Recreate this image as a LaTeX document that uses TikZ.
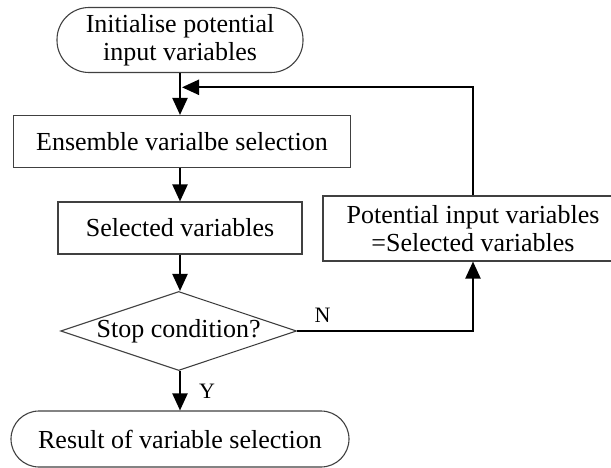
\documentclass[tikz,border=0pt]{standalone}
\usepackage{fontspec}
\setmainfont{Liberation Serif}
\usetikzlibrary{arrows.meta,shapes.geometric}
\begin{document}
\begin{tikzpicture}[x=1pt,y=-1pt,
  txt/.style={font=\fontsize{26}{28}\selectfont},
  box/.style={draw=black!75,line width=1.1pt,rectangle,inner sep=0pt,align=center,txt},
  term/.style={box,rounded corners=#1},
  dia/.style={draw=black!75,line width=1.1pt,diamond,inner sep=0pt,aspect=3,txt},
  arr/.style={line width=2.2pt,-{Triangle[width=15pt,length=17pt]}},
  lab/.style={font=\fontsize{22}{24}\selectfont,inner sep=0pt}]
\useasboundingbox (0,0) rectangle (611,468);
\node[term=32pt,minimum width=246pt,minimum height=65pt] (init) at (180,40) {Initialise potential\\input variables};
\node[box,minimum width=337pt,minimum height=52pt] (ens) at (182,141.5) {Ensemble varialbe selection};
\node[box,minimum width=244pt,minimum height=52pt] (sel) at (180,228) {Selected variables};
\node[box,minimum width=300pt,minimum height=65pt] (pot) at (473,228.5) {Potential input variables\\=Selected variables};
\node[dia,minimum width=236pt,minimum height=79pt] (dec) at (178.7,331) {Stop condition?};
\node[term=28pt,minimum width=338pt,minimum height=56pt] (res) at (180,439) {Result of variable selection};
\coordinate (fb) at (182,87.3);
\draw[arr] (init.south) -- (init.south |- ens.north);
\draw[arr] (init.south |- ens.south) -- (sel.north);
\draw[arr] (sel.south) -- (sel.south |- dec.north);
\draw[arr] (sel.south |- dec.south) -- (sel.south |- res.north);
\draw[arr] (dec.east) -| (pot.south);
\draw[arr] (pot.north) |- (fb);
\node[lab] (n) at (322.5,315) {N};
\node[lab] (y) at (207,391) {Y};
\end{tikzpicture}
\end{document}
